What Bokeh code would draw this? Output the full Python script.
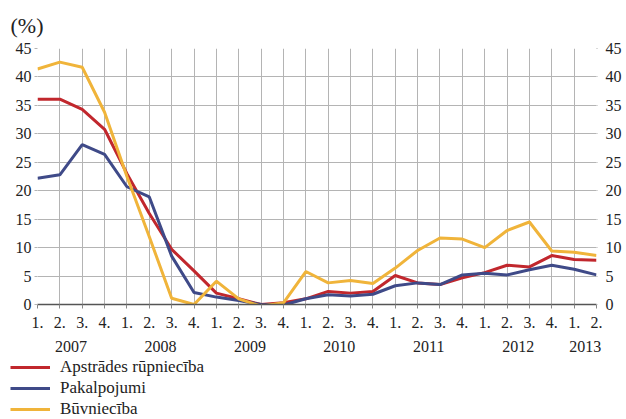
from bokeh.plotting import figure
from bokeh.layouts import column
from bokeh.models import LinearAxis, Legend, LegendItem, FixedTicker, Range1d
from bokeh.embed import file_html
from bokeh.resources import INLINE

quarters = ["1.", "2.", "3.", "4."] * 6 + ["1.", "2."]
years = ["2007", "2008", "2009", "2010", "2011", "2012", "2013"]
year_pos = [1.5, 5.5, 9.5, 13.5, 17.5, 21.5, 24.5]

apstrades = [36.1, 36.1, 34.3, 30.8, 23.0, 16.0, 9.7, 5.9, 2.0, 1.0, 0.0, 0.3, 1.0,
             2.3, 2.0, 2.3, 5.1, 3.8, 3.5, 4.7, 5.6, 6.9, 6.6, 8.6, 7.9, 7.8]
pakalpojumi = [22.2, 22.8, 28.1, 26.4, 20.7, 18.9, 8.5, 2.1, 1.3, 0.7, 0.0, -0.1, 1.0,
               1.7, 1.5, 1.8, 3.3, 3.8, 3.5, 5.2, 5.5, 5.2, 6.1, 6.9, 6.2, 5.2]
buvnieciba = [41.4, 42.6, 41.7, 33.8, 22.5, 11.9, 1.1, 0.0, 4.1, 1.0, -0.3, 0.3, 5.8,
              3.8, 4.2, 3.7, 6.4, 9.5, 11.7, 11.5, 10.0, 13.0, 14.5, 9.4, 9.2, 8.6]
names = ["Apstrādes rūpniecība", "Pakalpojumi", "Būvniecība"]
colors = ["#c1272d", "#3f4a88", "#f0b43a"]
y_ticks = [0, 5, 10, 15, 20, 25, 30, 35, 40, 45]

FONT = "Liberation Serif"
TXT = "#222222"
x = list(range(len(quarters)))
series = [apstrades, pakalpojumi, buvnieciba]

p = figure(frame_width=559, frame_height=256, output_backend="svg", toolbar_location=None,
           x_range=Range1d(0, len(quarters) - 1), y_range=Range1d(0, 45),
           min_border_left=37, min_border_right=30, min_border_top=48, min_border_bottom=53,
           title="(%)", x_axis_location=None, y_axis_location=None)
p.outline_line_color = None
p.title.text_font = FONT
p.title.text_font_size = "22px"
p.title.text_font_style = "normal"
p.title.text_color = TXT
p.title.offset = -27
p.title.standoff = 21

grid_color = "#b4b4b4"

for side in ["left", "right"]:
    ax = LinearAxis(ticker=FixedTicker(ticks=y_ticks))
    ax.axis_line_color = None
    ax.major_tick_out = 3 if side == "left" else 1
    ax.major_tick_in = 0
    ax.major_tick_line_color = grid_color
    ax.minor_tick_line_color = None
    ax.major_label_text_font = FONT
    ax.major_label_text_font_size = "16px"
    ax.major_label_text_color = TXT
    ax.major_label_standoff = 3 if side == "left" else 8
    p.add_layout(ax, side)

xa = LinearAxis(ticker=FixedTicker(ticks=x),
                major_label_overrides={i: q for i, q in enumerate(quarters)})
xa.axis_line_color = "#555555"
xa.axis_line_width = 1.5
xa.major_tick_out = 4
xa.major_tick_in = 0
xa.major_tick_line_color = "#888888"
xa.minor_tick_line_color = None
xa.major_label_text_font = FONT
xa.major_label_text_font_size = "16px"
xa.major_label_text_color = TXT
xa.major_label_standoff = 8
p.add_layout(xa, "below")

ya = LinearAxis(ticker=FixedTicker(ticks=year_pos),
                major_label_overrides={pos: y for pos, y in zip(year_pos, years)})
ya.axis_line_color = None
ya.major_tick_line_color = None
ya.minor_tick_line_color = None
ya.major_label_text_font = FONT
ya.major_label_text_font_size = "16px"
ya.major_label_text_color = TXT
ya.major_label_standoff = 4
p.add_layout(ya, "below")

p.xgrid.ticker = FixedTicker(ticks=x)
p.ygrid.ticker = FixedTicker(ticks=y_ticks)
p.xgrid.grid_line_color = grid_color
p.ygrid.grid_line_color = grid_color

for vals, c in zip(series, colors):
    p.line(x, vals, line_color=c, line_width=3)

# legend panel below the chart (its lines lie outside its visible range)
lg = figure(frame_width=626, frame_height=62, output_backend="svg", toolbar_location=None,
            x_range=Range1d(0, 1), y_range=Range1d(1000, 1001),
            min_border_left=0, min_border_right=0, min_border_top=0, min_border_bottom=0,
            x_axis_location=None, y_axis_location=None)
lg.outline_line_color = None
lg.grid.visible = False
legend_lines = [lg.line(x, vals, line_color=c, line_width=3) for vals, c in zip(series, colors)]

legend = Legend(items=[LegendItem(label=n, renderers=[r]) for n, r in zip(names, legend_lines)],
                location=(10, 0), orientation="vertical")
legend.border_line_color = None
legend.background_fill_alpha = 0
legend.padding = 0
legend.margin = 0
legend.spacing = 1
legend.glyph_width = 40
legend.glyph_height = 20
legend.label_height = 20
legend.label_standoff = 10
legend.label_text_font = FONT
legend.label_text_font_size = "17px"
legend.label_text_color = TXT
lg.add_layout(legend, "center")

layout = column(p, lg, spacing=0)
open("out.html", "w").write(file_html(layout, INLINE))
